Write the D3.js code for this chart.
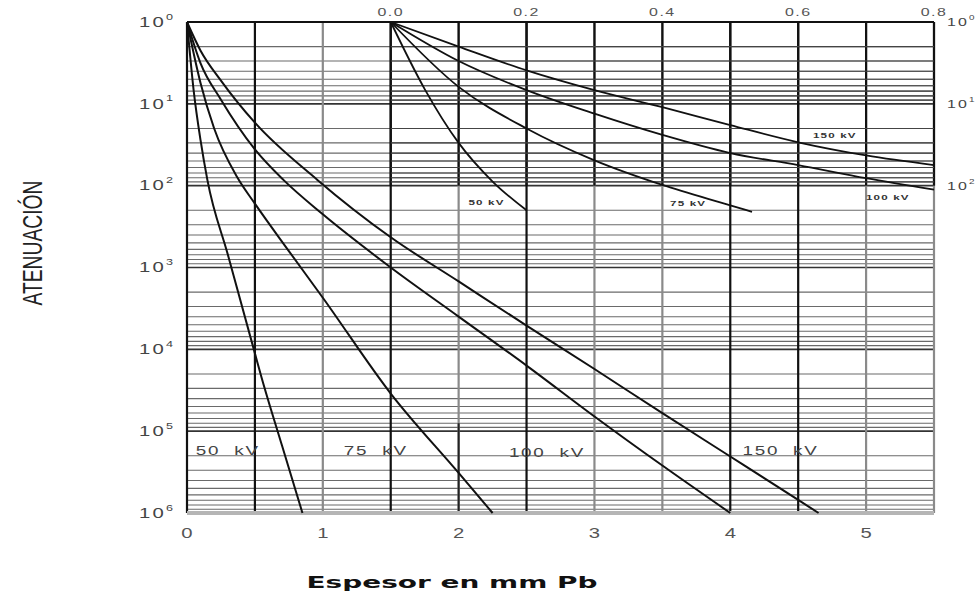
<!DOCTYPE html>
<html>
<head>
<meta charset="utf-8">
<script src="https://cdn.jsdelivr.net/npm/d3@7"></script>
<style>
  body { margin: 0; background: #fff; }
</style>
</head>
<body>
<div id="chart-container"></div>
<script>
// main chart: thickness in mm Pb vs attenuation factor
const thickness50 = [0, 0.05, 0.1, 0.15, 0.3, 0.5, 0.55, 0.7, 0.85];
const atten50 = [1, 7.1, 28, 85, 690, 11200, 22400, 151000, 1000000];
const thickness75 = [0, 0.1, 0.2, 0.37, 0.5, 0.75, 1.0, 1.5, 2.0, 2.25];
const atten75 = [1, 5.6, 20, 79, 166, 630, 2340, 34700, 324000, 1000000];
const thickness100 = [0, 0.1, 0.25, 0.5, 0.71, 1.0, 1.5, 2.0, 2.5, 3.0, 3.5, 4.0];
const atten100 = [1, 3.2, 8.9, 36, 85, 224, 1000, 3980, 15800, 66100, 263000, 1000000];
const thickness150 = [0, 0.1, 0.25, 0.5, 0.96, 1.5, 2.0, 2.5, 3.0, 3.5, 4.0, 4.5, 4.65];
const atten150 = [1, 2.24, 5.2, 17, 85, 427, 1480, 5130, 17400, 60300, 204000, 692000, 1000000];

// inset chart (top right): thickness 0.0 - 0.8 mm Pb
const insetThickness50 = [0, 0.05, 0.1, 0.15, 0.2];
const insetAtten50 = [1, 6.6, 30, 89, 200];
const insetThickness75 = [0, 0.1, 0.2, 0.3, 0.4, 0.5, 0.532];
const insetAtten75 = [1, 6.2, 20, 49, 98, 174, 209];
const insetThickness100 = [0, 0.1, 0.2, 0.3, 0.4, 0.5, 0.6, 0.7, 0.8];
const insetAtten100 = [1, 3.0, 6.8, 13.2, 24, 40, 56, 81, 112];
const insetThickness150 = [0, 0.1, 0.2, 0.3, 0.4, 0.5, 0.6, 0.7, 0.8];
const insetAtten150 = [1, 2.0, 3.9, 6.8, 11, 18.2, 29.5, 42.7, 56];

const xTicks = [0, 1, 2, 3, 4, 5];
const insetTicks = [0.0, 0.2, 0.4, 0.6, 0.8];
const yExponents = [0, 1, 2, 3, 4, 5, 6];
const insetExponents = [0, 1, 2];
const darkVerticals = [0, 0.5, 1.5, 2.5, 4, 4.5];
const greyVerticals = [1, 2, 3, 3.5, 5, 5.5];
const insetVerticals = [0, 0.1, 0.2, 0.3, 0.4, 0.5, 0.6, 0.7, 0.8];

const mainLabels = [
  { text: "50 kV", at: 0.30, value: 170000 },
  { text: "75 kV", at: 1.39, value: 170000 },
  { text: "100 kV", at: 2.65, value: 180000 },
  { text: "150 kV", at: 4.37, value: 170000 },
];
const insetLabels = [
  { text: "50 kV", at: 0.141, value: 160 },
  { text: "75 kV", at: 0.438, value: 165 },
  { text: "100 kV", at: 0.732, value: 140 },
  { text: "150 kV", at: 0.654, value: 24 },
];

const width = 980;
const height = 594;
const plot = { left: 187, right: 934, top: 22, bottom: 513 };
const stretch = 1.45;

const svg = d3
  .select("#chart-container")
  .append("svg")
  .attr("width", width)
  .attr("height", height)
  .style("font-family", "'Liberation Sans', Arial, sans-serif");

const x = d3.scaleLinear().domain([0, 5.5]).range([plot.left, plot.right]);
const y = d3.scaleLog().domain([1, 1e6]).range([plot.top, plot.bottom]);
const xInset = d3.scaleLinear().domain([0, 0.8]).range([x(1.5), x(5.5)]);

// horizontal log grid
const minorValues = [];
for (let e = 0; e < 6; e++) {
  for (let m = 2; m <= 9; m++) minorValues.push(m * Math.pow(10, e));
}
svg
  .append("g")
  .selectAll("line")
  .data(minorValues)
  .join("line")
  .attr("x1", plot.left)
  .attr("x2", plot.right)
  .attr("y1", (d) => y(d))
  .attr("y2", (d) => y(d))
  .attr("stroke", "#6a6a6a")
  .attr("stroke-width", 1.1);

svg
  .append("g")
  .selectAll("line")
  .data(yExponents.slice(1, 6))
  .join("line")
  .attr("x1", plot.left)
  .attr("x2", plot.right)
  .attr("y1", (d) => y(Math.pow(10, d)))
  .attr("y2", (d) => y(Math.pow(10, d)))
  .attr("stroke", "#333")
  .attr("stroke-width", 1.6);

// vertical lines
svg
  .append("g")
  .selectAll("line")
  .data(greyVerticals)
  .join("line")
  .attr("x1", (d) => x(d))
  .attr("x2", (d) => x(d))
  .attr("y1", plot.top)
  .attr("y2", plot.bottom)
  .attr("stroke", "#8a8a8a")
  .attr("stroke-width", 2.2);

// the 2 mm line is dark near the bottom
svg
  .append("line")
  .attr("x1", x(2))
  .attr("x2", x(2))
  .attr("y1", y(80000))
  .attr("y2", plot.bottom)
  .attr("stroke", "#222")
  .attr("stroke-width", 2);

svg
  .append("g")
  .selectAll("line")
  .data(darkVerticals)
  .join("line")
  .attr("x1", (d) => x(d))
  .attr("x2", (d) => x(d))
  .attr("y1", plot.top)
  .attr("y2", plot.bottom)
  .attr("stroke", "#111")
  .attr("stroke-width", 2.2);

svg
  .append("g")
  .selectAll("line")
  .data(insetVerticals)
  .join("line")
  .attr("x1", (d) => xInset(d))
  .attr("x2", (d) => xInset(d))
  .attr("y1", plot.top)
  .attr("y2", y(100))
  .attr("stroke", "#111")
  .attr("stroke-width", 2.2);

// inset horizontal lines darker
svg
  .append("g")
  .selectAll("line")
  .data(minorValues.filter((d) => d < 100))
  .join("line")
  .attr("x1", xInset(0))
  .attr("x2", xInset(0.8))
  .attr("y1", (d) => y(d))
  .attr("y2", (d) => y(d))
  .attr("stroke", "#444")
  .attr("stroke-width", 1.1);

// borders
svg
  .append("line")
  .attr("x1", plot.left)
  .attr("x2", plot.right)
  .attr("y1", plot.top)
  .attr("y2", plot.top)
  .attr("stroke", "#111")
  .attr("stroke-width", 2);
svg
  .append("line")
  .attr("x1", plot.left)
  .attr("x2", plot.right)
  .attr("y1", plot.bottom)
  .attr("y2", plot.bottom)
  .attr("stroke", "#b5b5b5")
  .attr("stroke-width", 4);

// curves
const line = d3
  .line()
  .x((d) => d[0])
  .y((d) => d[1])
  .curve(d3.curveMonotoneX);

const mainSeries = [
  [thickness50, atten50],
  [thickness75, atten75],
  [thickness100, atten100],
  [thickness150, atten150],
];
const insetSeries = [
  [insetThickness50, insetAtten50],
  [insetThickness75, insetAtten75],
  [insetThickness100, insetAtten100],
  [insetThickness150, insetAtten150],
];

mainSeries.forEach(([xs, vs]) => {
  svg
    .append("path")
    .datum(xs.map((t, i) => [x(t), y(vs[i])]))
    .attr("fill", "none")
    .attr("stroke", "#111")
    .attr("stroke-width", 2)
    .attr("d", line);
});

insetSeries.forEach(([xs, vs]) => {
  svg
    .append("path")
    .datum(xs.map((t, i) => [xInset(t), y(vs[i])]))
    .attr("fill", "none")
    .attr("stroke", "#111")
    .attr("stroke-width", 1.8)
    .attr("d", line);
});

// stretched text helper, the original lettering is wide
const wideText = (g, px, py, size, anchor) =>
  g
    .append("text")
    .attr("transform", `translate(${px}, ${py}) scale(${stretch}, 1)`)
    .attr("text-anchor", anchor)
    .attr("dominant-baseline", "central")
    .style("font-size", `${size}px`);

// curve labels
mainLabels.forEach((d) => {
  wideText(svg, x(d.at), y(d.value), 13, "middle")
    .style("letter-spacing", "1.2px")
    .style("white-space", "pre")
    .attr("fill", "#444")
    .text(d.text.replace(" ", "  "));
});

insetLabels.forEach((d) => {
  wideText(svg, xInset(d.at), y(d.value), 8, "middle")
    .style("font-weight", "bold")
    .style("letter-spacing", "0.8px")
    .attr("fill", "#333")
    .text(d.text);
});

// power of ten labels
const powerLabel = (g, px, py, exp, size, anchor) => {
  const t = wideText(g, px, py, size, anchor)
    .style("letter-spacing", "1.5px")
    .attr("fill", "#444");
  t.append("tspan").text("10");
  t.append("tspan")
    .attr("dy", -size * 0.4)
    .style("font-size", `${size * 0.62}px`)
    .style("letter-spacing", "0px")
    .text(exp);
};

const yAxis = svg.append("g");
yExponents.forEach((e) => powerLabel(yAxis, 173, y(Math.pow(10, e)), e, 14, "end"));

const rightAxis = svg.append("g");
insetExponents.forEach((e) => powerLabel(rightAxis, 947, y(Math.pow(10, e)), e, 11, "start"));

const xAxis = svg.append("g");
xTicks.forEach((d) => {
  wideText(xAxis, x(d), 533, 14, "middle").attr("fill", "#555").text(d);
});

const topAxis = svg.append("g");
insetTicks.forEach((d) => {
  wideText(topAxis, xInset(d), 12, 11, "middle")
    .style("letter-spacing", "1px")
    .attr("fill", "#555")
    .text(d.toFixed(1));
});

// axis titles
svg
  .append("text")
  .attr("x", 452)
  .attr("y", 588)
  .attr("text-anchor", "middle")
  .attr("textLength", 291)
  .attr("lengthAdjust", "spacingAndGlyphs")
  .style("font-family", "'DejaVu Sans', Verdana, sans-serif")
  .style("font-size", "16px")
  .style("font-weight", "bold")
  .attr("fill", "#111")
  .text("Espesor en mm Pb");

svg
  .append("text")
  .attr("transform", "translate(42, 243) rotate(-90)")
  .attr("text-anchor", "middle")
  .attr("textLength", 125)
  .attr("lengthAdjust", "spacingAndGlyphs")
  .style("font-family", "'Liberation Sans Narrow', 'Liberation Sans', sans-serif")
  .style("font-size", "27px")
  .attr("fill", "#222")
  .text("ATENUACIÓN");
</script>
</body>
</html>
